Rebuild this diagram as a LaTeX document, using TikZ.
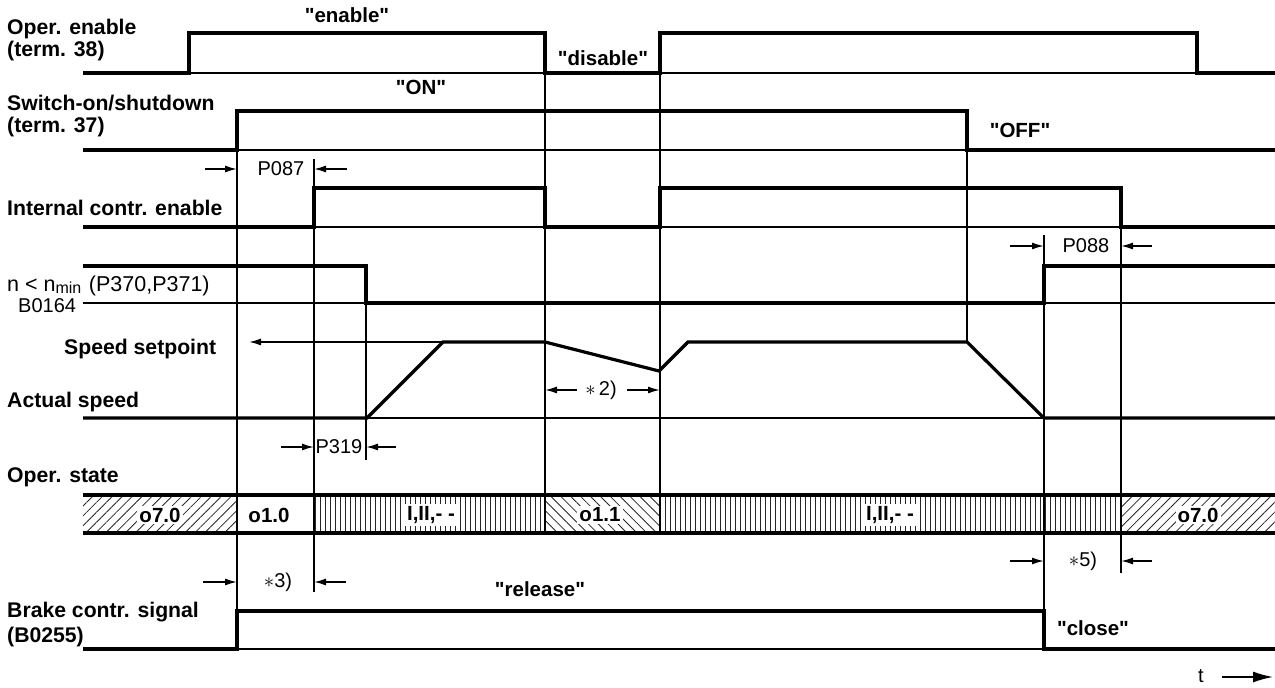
\documentclass[tikz,border=0pt]{standalone}
\usepackage{fontspec}
\setmainfont{Liberation Sans}
\usetikzlibrary{arrows.meta,patterns.meta}
\newcommand{\qq}[1]{\textquotedbl#1\textquotedbl}
\begin{document}
\begin{tikzpicture}[x=1pt,y=-1pt,
  sig/.style={line width=3.2pt,line join=miter},
  thin/.style={line width=1.7pt},
  dim/.style={-{Latex[length=12pt,width=7pt]},line width=1.5pt},
  lbl/.style={font=\bfseries\fontsize{21.2}{24}\selectfont,inner sep=0pt,anchor=west},
  rtxt/.style={font=\fontsize{20}{23}\selectfont,inner sep=0pt},
  btxt/.style={font=\bfseries\fontsize{20.5}{23}\selectfont,inner sep=0pt},
  state/.style={font=\bfseries\fontsize{20.5}{23}\selectfont,fill=white,inner sep=2pt},
  diag/.style={pattern={Lines[angle=45,distance=7pt,line width=0.8pt]},pattern color=black!85},
  diagb/.style={pattern={Lines[angle=-45,distance=7pt,line width=0.8pt]},pattern color=black!85},
  vert/.style={pattern={Lines[angle=90,distance=5pt,line width=0.9pt]},pattern color=black!85},
]
\useasboundingbox[fill=white] (0,0) rectangle (1275,688);

% ---------- left labels ----------
\node[lbl] (l1a) at (7,29) {Oper. enable};
\node[lbl] (l1b) at (7,51) {(term. 38)};
\node[lbl] (l2a) at (7,103) {Switch-on/shutdown};
\node[lbl] (l2b) at (7,127) {(term. 37)};
\node[lbl] (l3) at (7,208) {Internal contr. enable};
\node[rtxt,anchor=west,font=\fontsize{21.5}{23}\selectfont] (l4a) at (7,286) {n < n\raisebox{-2pt}{\fontsize{16}{16}\selectfont min}\hspace{0.35em}(P370,P371)};
\node[rtxt,anchor=west] (l4b) at (18,306) {B0164};
\node[lbl] (l5) at (64,349) {Speed setpoint};
\node[lbl] (l6) at (7,402) {Actual speed};
\node[lbl] (l7) at (7,477) {Oper. state};
\node[lbl] (l8a) at (7,612) {Brake contr. signal};
\node[lbl] (l8b) at (7,637) {(B0255)};

% ---------- thin baselines ----------
\draw[thin] (83,73) -- (1275,73);
\draw[thin] (83,150) -- (1275,150);
\draw[thin] (83,227) -- (1275,227);
\draw[thin] (83,303) -- (1275,303);
\draw[thin] (83,418) -- (1275,418);
\draw[thin] (83,649) -- (1275,649);

% ---------- vertical reference lines ----------
\draw[thin] (237,111) -- (237,649);
\draw[thin] (314,159) -- (314,592);
\draw[thin] (366,266) -- (366,460);
\draw[thin] (545,33) -- (545,533);
\draw[thin] (660,33) -- (660,533);
\draw[thin] (967,111) -- (967,342);
\draw[thin] (1044,235) -- (1044,649);
\draw[thin] (1121,188) -- (1121,573);

% ---------- signals ----------
\draw[sig] (83,73) -- (189,73) -- (189,33) -- (545,33) -- (545,73) -- (660,73) -- (660,33) -- (1197,33) -- (1197,73) -- (1275,73);
\draw[sig] (83,150) -- (237,150) -- (237,111) -- (967,111) -- (967,150) -- (1275,150);
\draw[sig] (83,227) -- (314,227) -- (314,188) -- (545,188) -- (545,227) -- (660,227) -- (660,188) -- (1121,188) -- (1121,227) -- (1275,227);
\draw[sig] (83,266) -- (366,266) -- (366,303) -- (1044,303) -- (1044,266) -- (1275,266);
\draw[sig] (83,418) -- (367,418) -- (443,342) -- (545,342) -- (659,371) -- (688,342) -- (967,342) -- (1044,418) -- (1275,418);
\draw[sig] (83,649) -- (237,649) -- (237,611) -- (1044,611) -- (1044,649) -- (1275,649);

% speed setpoint arrow
\draw[dim] (545,342) -- (249,342);

% ---------- signal texts ----------
\node[btxt] (en) at (347,15) {\qq{enable}};
\node[btxt] (dis) at (603,58) {\qq{disable}};
\node[btxt] (on) at (421,87) {\qq{ON}};
\node[btxt] (off) at (1020,130) {\qq{OFF}};
\node[btxt] (rel) at (540,589) {\qq{release}};
\node[btxt] (clo) at (1093,628) {\qq{close}};

% ---------- dimension arrows ----------
\draw[dim] (205,169) -- (237,169);
\node[rtxt] (p087) at (281,169) {P087};
\draw[dim] (347,169) -- (314,169);

\draw[dim] (1010,246) -- (1044,246);
\node[rtxt] (p088) at (1086,246) {P088};
\draw[dim] (1152,246) -- (1121,246);

\draw[dim] (281,447) -- (314,447);
\node[rtxt] (p319) at (339,447) {P319};
\draw[dim] (396,447) -- (366,447);

\draw[dim] (577,390) -- (545,390);
\node[rtxt] (s2) at (601,390) {$\ast$\,2)};
\draw[dim] (627,390) -- (660,390);

\draw[dim] (203,582) -- (237,582);
\node[rtxt] (s3) at (278,582) {$\ast$3)};
\draw[dim] (346,582) -- (314,582);

\draw[dim] (1010,561) -- (1044,561);
\node[rtxt] (s5) at (1083,561) {$\ast$5)};
\draw[dim] (1152,561) -- (1121,561);

% ---------- operating state band ----------
\fill[diag] (83,495) rectangle (237,533);
\fill[vert] (314,495) rectangle (545,533);
\fill[diagb] (545,495) rectangle (660,533);
\fill[vert] (660,495) rectangle (1121,533);
\fill[diag] (1121,495) rectangle (1275,533);
\foreach \xx in {237,314,545,660,1121} \draw[line width=2pt] (\xx,495) -- (\xx,533);
\draw[line width=4.5pt] (83,495) -- (1275,495);
\draw[line width=4.5pt] (83,533) -- (1275,533);
\node[state] (s70a) at (160,515) {o7.0};
\node[state] (s10) at (269,515) {o1.0};
\node[state] (sI1) at (431,515) {I,II,- -};
\node[state] (s11) at (600,515) {o1.1};
\node[state] (sI2) at (890,515) {I,II,- -};
\node[state] (s70b) at (1198,515) {o7.0};

% ---------- time axis ----------
\node[rtxt] (t) at (1201,676) {t};
\coordinate (ta) at (1222,677);
\coordinate (tb) at (1273,677);
\draw[line width=1.5pt,-{Latex[length=20pt,width=11pt]}] (ta) -- (tb);
\end{tikzpicture}
\end{document}
